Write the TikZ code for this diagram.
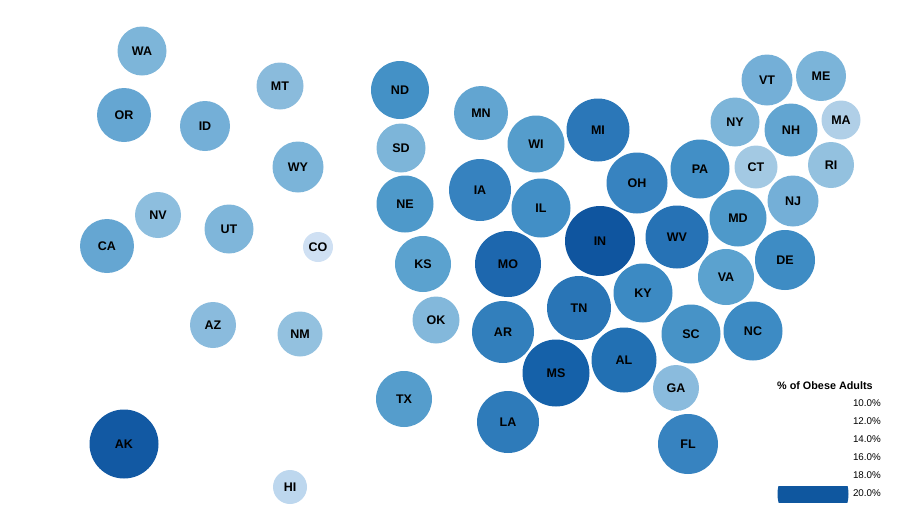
\documentclass[tikz,border=0pt]{standalone}
\usepackage{fontspec}
\setmainfont{Liberation Sans}
\tikzset{
  statenode/.style={circle,fill=statefill,inner sep=0pt,minimum size=#1,font=\fontsize{12.5}{12.5}\selectfont\bfseries,text=black},
  legendtitle/.style={font=\fontsize{10.8}{12}\selectfont\bfseries,anchor=west,inner sep=0pt},
  legendtick/.style={font=\fontsize{9.8}{12}\selectfont,anchor=east,inner sep=0pt}
}
\definecolor{legendblue}{HTML}{0F579F}

\begin{document}
\begin{tikzpicture}[x=1pt,y=-1pt]
  \useasboundingbox (0,0) rectangle (900,520);

  % one circle per state: name, x, y, diameter, colour
  \foreach \name/\x/\y/\d/\hex in {
    WA/142/51/49/7DB5D9, OR/124/115/54/65A6D2, ID/205/126/50/74AFD7, MT/280/86/47/8ABBDC,
    WY/298/167/51/7BB4D9, NV/158/215/46/8DBEDE, UT/229/229/49/7FB6DA, CA/107/246/54/65A6D2,
    CO/318/247/30/CFE0F3, AZ/213/325/46/8ABBDD, NM/300/334/45/93C1DF, AK/124/444/69/1259A3,
    HI/290/487/34/BDD7EE, ND/400/90/58/4491C6, SD/401/148/49/7DB5D9, NE/405/204/57/4E99CA,
    KS/423/264/56/5BA2CF, OK/436/320/47/83B8DB, TX/404/399/56/559DCC, MN/481/113/54/62A5D1,
    WI/536/144/57/559DCC, IA/480/190/62/3682BF, IL/541/208/59/428FC6, MO/508/264/66/1D67AE,
    AR/503/332/62/327FBC, LA/508/422/62/2E7BBA, MS/556/373/67/1561A9, TN/579/308/64/2975B6,
    AL/624/360/65/2270B3, KY/643/293/59/3C8AC3, IN/600/241/70/0F559F, MI/598/130/63/2B77B8,
    OH/637/183/61/3783C0, WV/677/237/63/2672B5, PA/700/169/59/428FC6, VA/726/277/56/5BA2CF,
    MD/738/218/57/4E99CA, SC/691/334/59/4793C7, NC/753/331/59/3D8BC4, GA/676/388/46/8ABBDD,
    FL/688/444/60/3783C0, DE/785/260/60/3E8CC4, NJ/793/201/51/74AFD7, CT/756/167/43/A3C9E3,
    NY/735/122/49/7DB5D9, NH/791/130/53/62A5D1, VT/767/80/51/74AFD7, ME/821/76/50/7BB4D9,
    MA/841/120/39/B0CFE7, RI/831/165/46/93C1DF}
  {
    \definecolor{statefill}{HTML}{\hex}
    \node [statenode=\d pt] (\name) at (\x,\y) {\name};
  }

  \node [legendtitle] (legendhead) at (777,385.5) {\% of Obese Adults};
  \foreach \y/\tick in {403.5/10.0, 421.5/12.0, 439.5/14.0, 457.5/16.0, 475.5/18.0, 493.5/20.0}
    \node [legendtick] (tick\tick) at (881,\y) {\tick\%};

  \begin{scope}
    \clip (770,486) rectangle (856,502);
    \fill [legendblue] (813,494) circle (35.5);
  \end{scope}
\end{tikzpicture}
\end{document}
